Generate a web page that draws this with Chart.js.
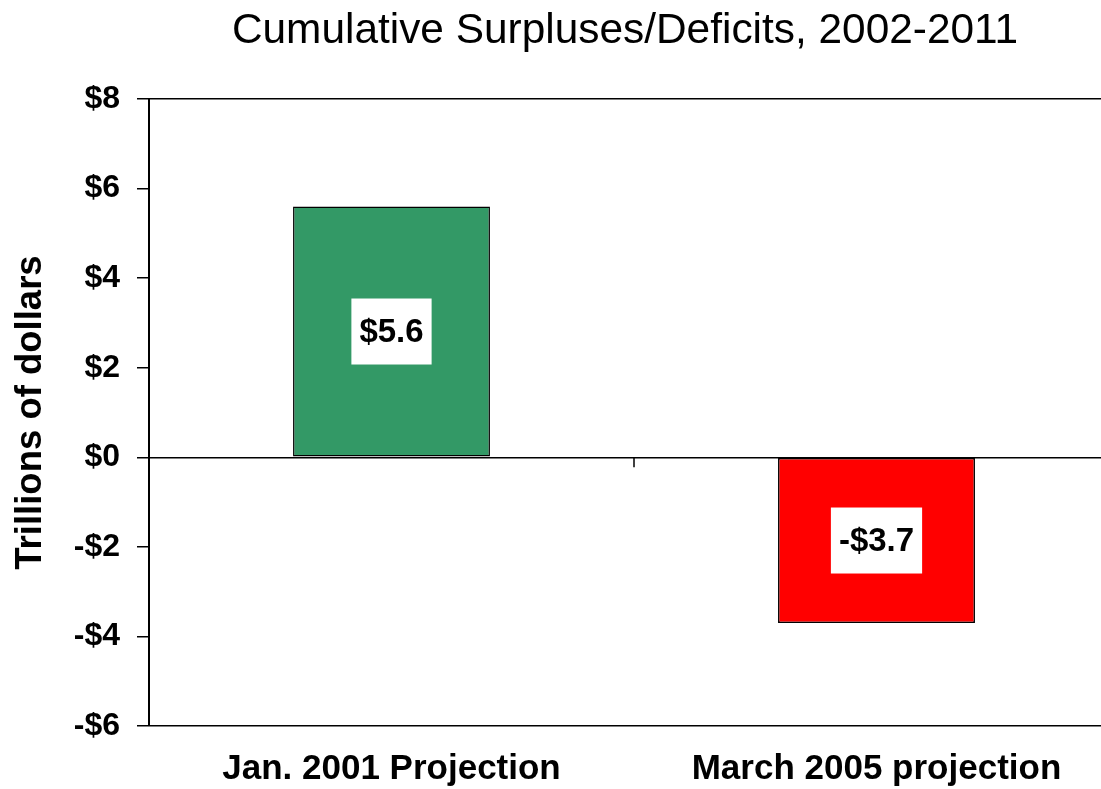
<!DOCTYPE html>
<html>
<head>
<meta charset="utf-8">
<script src="https://cdn.jsdelivr.net/npm/chart.js@4/dist/chart.umd.min.js"></script>
<style>
  body { margin: 0; overflow: hidden; background: #fff; }
</style>
</head>
<body>
<canvas id="chartDeficits" width="1250" height="789"></canvas>
<script>
const titleText = 'Cumulative Surpluses/Deficits, 2002-2011';
const categories = ['Jan. 2001 Projection', 'March 2005 projection'];
const values = [5.6, -3.7];
const barColors = ['#339966', '#FF0000'];
const yTicks = [8, 6, 4, 2, 0, -2, -4, -6];
const solidLines = [8, 0, -6];

const FONT = "'Liberation Sans', Arial, sans-serif";

function money(v) {
    return (v < 0 ? '-$' : '$') + Math.abs(v);
}

// title drawn centred on the canvas (plot runs past the window edge)
const titlePlugin = {
    id: 'titlePlugin',
    afterDraw(chart) {
        const c = chart.ctx;
        c.save();
        c.font = '42.4px ' + FONT;
        c.fillStyle = '#000';
        c.textAlign = 'center';
        c.textBaseline = 'alphabetic';
        c.fillText(titleText, chart.width / 2, 43);
        c.restore();
    }
};

// white boxes with the value inside each bar, plus the category divider tick
const labelPlugin = {
    id: 'labelPlugin',
    afterDatasetsDraw(chart) {
        const c = chart.ctx;
        const xs = chart.scales.x;
        const ys = chart.scales.y;
        c.save();

        const y0 = ys.getPixelForValue(0);
        const xm = (xs.getPixelForValue(0) + xs.getPixelForValue(1)) / 2;
        c.strokeStyle = '#000';
        c.lineWidth = 1.5;
        c.beginPath();
        c.moveTo(xm, y0);
        c.lineTo(xm, y0 + 10);
        c.stroke();

        c.font = 'bold 33px ' + FONT;
        c.textAlign = 'center';
        c.textBaseline = 'middle';
        chart.getDatasetMeta(0).data.forEach((bar, i) => {
            const txt = (values[i] < 0 ? '-$' : '$') + Math.abs(values[i]).toFixed(1);
            const cy = (bar.y + bar.base) / 2;
            const w = c.measureText(txt).width + 16;
            const h = 66;
            c.fillStyle = '#fff';
            c.fillRect(bar.x - w / 2, cy - h / 2, w, h);
            c.fillStyle = '#000';
            c.fillText(txt, bar.x, cy + 1);
        });
        c.restore();
    }
};

new Chart(document.getElementById('chartDeficits'), {
    type: 'bar',
    data: {
        labels: categories,
        datasets: [{
            data: values,
            backgroundColor: barColors,
            borderColor: '#000',
            borderWidth: 1.5,
            borderSkipped: false,
            categoryPercentage: 1,
            barPercentage: 0.406
        }]
    },
    options: {
        responsive: false,
        animation: false,
        layout: {
            padding: { top: 99, left: 5, right: 131, bottom: 0 }
        },
        plugins: {
            legend: { display: false },
            tooltip: { enabled: false },
            title: { display: false }
        },
        scales: {
            x: {
                afterFit: s => { s.height = 63; },
                grid: { display: false, drawTicks: false },
                border: { display: false },
                ticks: {
                    color: '#000',
                    padding: 22,
                    maxRotation: 0,
                    font: { family: FONT, size: 35, weight: 'bold', lineHeight: 1.2 }
                }
            },
            y: {
                min: -6,
                max: 8,
                afterBuildTicks: s => { s.ticks = yTicks.map(v => ({ value: v })); },
                afterFit: s => { s.width = 144; },
                border: { display: true, color: '#000', width: 2 },
                grid: {
                    color: ctx => solidLines.includes(ctx.tick.value) ? '#000' : 'rgba(0,0,0,0)',
                    lineWidth: 1.5,
                    tickColor: '#000',
                    tickLength: 12
                },
                ticks: {
                    color: '#000',
                    padding: 17,
                    font: { family: FONT, size: 32, weight: 'bold' },
                    callback: v => money(v)
                },
                title: {
                    display: true,
                    text: 'Trillions of dollars',
                    color: '#000',
                    padding: { top: 4, bottom: 10 },
                    font: { family: FONT, size: 36.5, weight: 'bold', lineHeight: 1.2 }
                }
            }
        }
    },
    plugins: [titlePlugin, labelPlugin]
});
</script>
</body>
</html>
